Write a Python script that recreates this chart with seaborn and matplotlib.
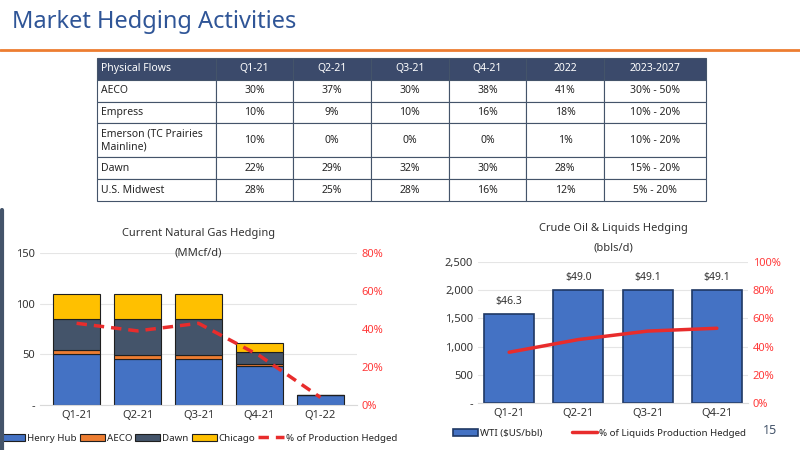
import numpy as np
import pandas as pd
import matplotlib
matplotlib.use('Agg')
import matplotlib.pyplot as plt
import seaborn as sns

# table data
table_cols = ['Physical Flows', 'Q1-21', 'Q2-21', 'Q3-21', 'Q4-21', '2022', '2023-2027']
table_rows = [
    ['AECO', '30%', '37%', '30%', '38%', '41%', '30% - 50%'],
    ['Empress', '10%', '9%', '10%', '16%', '18%', '10% - 20%'],
    ['Emerson (TC Prairies\nMainline)', '10%', '0%', '0%', '0%', '1%', '10% - 20%'],
    ['Dawn', '22%', '29%', '32%', '30%', '28%', '15% - 20%'],
    ['U.S. Midwest', '28%', '25%', '28%', '16%', '12%', '5% - 20%'],
]

# natural gas hedging
gas_q = ['Q1-21', 'Q2-21', 'Q3-21', 'Q4-21', 'Q1-22']
henry_hub = [50, 45, 45, 38, 10]
aeco = [4, 4, 4, 2, 0]
dawn = [31, 36, 36, 12, 0]
chicago = [25, 25, 25, 9, 0]
gas_pct = [43, 39, 43, 26, 4]

# crude oil hedging
oil_q = ['Q1-21', 'Q2-21', 'Q3-21', 'Q4-21']
wti_vol = [1580, 2000, 2000, 2000]
wti_price = ['$46.3', '$49.0', '$49.1', '$49.1']
oil_pct = [36, 45, 51, 53]

sns.set_style('white')
plt.rcParams['font.family'] = ['Noto Sans', 'DejaVu Sans']

fig = plt.figure(figsize=(8, 4.5), dpi=100)
W, H = 800, 450
def ax_at(x0, y0, x1, y1):
    return fig.add_axes([x0 / W, 1 - y1 / H, (x1 - x0) / W, (y1 - y0) / H])

fig.text(12 / W, 1 - 22 / H, 'Market Hedging Activities', fontsize=17, color='#2F5597', va='center')
fig.add_artist(plt.Line2D([0, 1], [1 - 50 / H] * 2, color='#ED7D31', lw=2))
fig.add_artist(plt.Line2D([1.5 / W] * 2, [0, 1 - 210 / H], color='#44546A', lw=3))
fig.text(770 / W, 1 - 430 / H, '15', fontsize=9, color='#44546A', va='center', ha='center')

# table
tax = ax_at(97, 58, 706, 201)
tax.axis('off')
tbl = tax.table(cellText=table_rows, colLabels=table_cols, bbox=[0, 0, 1, 1],
                cellLoc='center', colWidths=[1.45, 0.95, 0.95, 0.95, 0.95, 0.95, 1.25])
tbl.auto_set_font_size(False)
tbl.set_fontsize(7.5)
heights = [1, 1, 1, 1.55, 1, 1]
for (r, c), cell in tbl.get_celld().items():
    cell.set_edgecolor('#44546A')
    cell.set_linewidth(0.8)
    cell.set_height(heights[r] / sum(heights))
    if c == 0:
        cell._loc = 'left'
        cell.PAD = 0.03
        cell.get_text().set_ha('left')
    if r == 0:
        cell.set_facecolor('#3B4A6B')
        cell.get_text().set_color('white')

def style(ax, ax2, pcol='#FF3B3B'):
    sns.despine(ax=ax, left=True, bottom=False)
    for s in ax2.spines.values():
        s.set_visible(False)
    ax.spines['bottom'].set_color('#D9D9D9')
    ax.tick_params(length=0, labelsize=8, colors='#333333')
    ax2.tick_params(length=0, labelsize=8, colors=pcol)
    ax.yaxis.grid(True, color='#E5E5E5', lw=0.8)
    ax.set_axisbelow(True)

# gas chart
ax = ax_at(40, 253, 357, 405)
df = pd.DataFrame({'q': gas_q, 'Henry Hub': henry_hub, 'AECO': aeco, 'Dawn': dawn, 'Chicago': chicago})
cols = {'Henry Hub': '#4472C4', 'AECO': '#ED7D31', 'Dawn': '#44546A', 'Chicago': '#FFC000'}
bottom = np.zeros(len(gas_q))
for name, c in cols.items():
    ax.bar(df['q'], df[name], bottom=bottom, width=0.78, color=c, edgecolor='#1F1F1F', lw=0.8, label=name)
    bottom += df[name].values
ax.set_ylim(0, 150)
ax.set_yticks([0, 50, 100, 150], ['-', '50', '100', '150'])
ax.set_xlim(-0.6, 4.6)
ax2 = ax.twinx()
sns.lineplot(x=np.arange(len(gas_q)), y=gas_pct, ax=ax2, color='#E82C2C', lw=2.5, ls=(0, (3, 2)),
             label='% of Production Hedged', legend=False)
ax2.set_ylim(0, 80)
ax2.set_yticks([0, 20, 40, 60, 80], ['0%', '20%', '40%', '60%', '80%'])
style(ax, ax2)
ax.set_title('Current Natural Gas Hedging', fontsize=8, color='#333333', pad=12)
ax.text(0.5, 1.0, '(MMcf/d)', transform=ax.transAxes, ha='center', va='center', fontsize=8, color='#333333')
h1, l1 = ax.get_legend_handles_labels()
h2, l2 = ax2.get_legend_handles_labels()
ax.legend(h1 + h2, l1 + l2, loc='upper center', bbox_to_anchor=(0.5, -0.13), ncol=5, frameon=False,
          fontsize=7, handlelength=2.6, handletextpad=0.2, columnspacing=0.3)

# oil chart
ax = ax_at(478, 262, 748, 403)
ax.bar(oil_q, wti_vol, width=0.72, color='#4472C4', edgecolor='#1F3864', lw=1.2, label='WTI ($US/bbl)')
for i, t in enumerate(wti_price):
    ax.text(i, wti_vol[i] + 120, t, ha='center', va='bottom', fontsize=7.5, color='#333333')
ax.set_ylim(0, 2500)
ax.set_yticks(range(0, 2501, 500), ['-', '500', '1,000', '1,500', '2,000', '2,500'])
ax.set_xlim(-0.45, 3.45)
ax2 = ax.twinx()
sns.lineplot(x=np.arange(len(oil_q)), y=oil_pct, ax=ax2, color='#E82C2C', lw=2.5,
             label='% of Liquids Production Hedged', legend=False)
ax2.set_ylim(0, 100)
ax2.set_yticks(range(0, 101, 20), [f'{v}%' for v in range(0, 101, 20)])
style(ax, ax2)
ax.set_title('Crude Oil & Liquids Hedging', fontsize=8, color='#333333', pad=22)
ax.text(0.5, 1.1, '(bbls/d)', transform=ax.transAxes, ha='center', va='center', fontsize=8, color='#333333')
h1, l1 = ax.get_legend_handles_labels()
h2, l2 = ax2.get_legend_handles_labels()
ax.legend(h1 + h2, l1 + l2, loc='upper center', bbox_to_anchor=(0.45, -0.12), ncol=2, frameon=False,
          fontsize=7, handlelength=2.6, handletextpad=0.2, columnspacing=3)

fig.savefig('out.png', dpi=100)
